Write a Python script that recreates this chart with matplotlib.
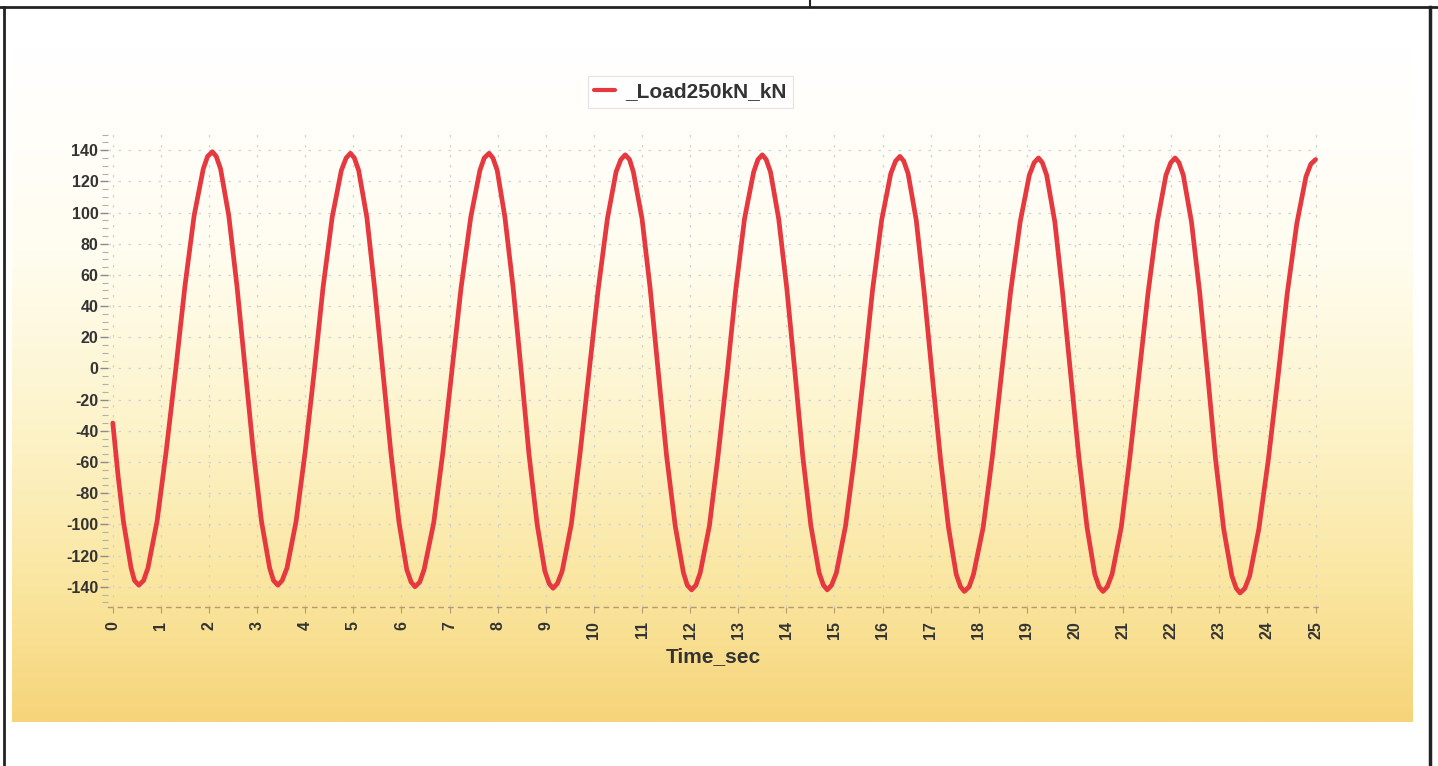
import numpy as np
import matplotlib
matplotlib.use('Agg')
import matplotlib.pyplot as plt
from matplotlib.lines import Line2D
from matplotlib.colors import LinearSegmentedColormap
from matplotlib.ticker import MultipleLocator

plt.rcParams['font.family'] = ['Liberation Sans', 'DejaVu Sans']
plt.rcParams['axes.unicode_minus'] = False

# valores (segundos, kN), un semiciclo por renglon
time_sec = [
    0.00, 0.11, 0.22, 0.38, 0.45, 0.54,
    0.64, 0.73, 0.92, 1.11, 1.31, 1.50, 1.69, 1.88, 1.97, 2.07,
    2.15, 2.24, 2.41, 2.58, 2.75, 2.92, 3.09, 3.26, 3.34, 3.43,
    3.52, 3.62, 3.81, 4.00, 4.19, 4.37, 4.56, 4.75, 4.85, 4.94,
    5.02, 5.11, 5.28, 5.44, 5.61, 5.78, 5.95, 6.11, 6.20, 6.28,
    6.38, 6.47, 6.67, 6.86, 7.05, 7.24, 7.44, 7.63, 7.72, 7.82,
    7.90, 7.99, 8.15, 8.32, 8.49, 8.65, 8.82, 8.98, 9.07, 9.15,
    9.24, 9.34, 9.53, 9.71, 9.90, 10.09, 10.28, 10.46, 10.56, 10.65,
    10.74, 10.82, 11.00, 11.17, 11.34, 11.51, 11.69, 11.86, 11.94, 12.03,
    12.12, 12.21, 12.40, 12.58, 12.77, 12.95, 13.13, 13.32, 13.41, 13.50,
    13.58, 13.67, 13.84, 14.01, 14.18, 14.34, 14.51, 14.68, 14.77, 14.85,
    14.94, 15.04, 15.23, 15.42, 15.61, 15.79, 15.98, 16.17, 16.27, 16.36,
    16.44, 16.53, 16.70, 16.86, 17.03, 17.20, 17.37, 17.53, 17.62, 17.70,
    17.80, 17.89, 18.09, 18.28, 18.47, 18.66, 18.86, 19.05, 19.15, 19.24,
    19.32, 19.41, 19.58, 19.74, 19.91, 20.08, 20.25, 20.41, 20.50, 20.58,
    20.67, 20.77, 20.96, 21.14, 21.33, 21.52, 21.71, 21.89, 21.99, 22.08,
    22.16, 22.25, 22.42, 22.59, 22.76, 22.92, 23.09, 23.26, 23.35, 23.43,
    23.53, 23.63, 23.82, 24.02, 24.22, 24.41, 24.61, 24.80, 24.90, 25.00,
]
load_kn = [
    -35, -69, -98, -128, -136, -139,
    -136, -128, -98, -53, 0, 53, 98, 128, 136, 139,
    136, 128, 98, 53, 0, -53, -98, -128, -136, -139,
    -136, -128, -98, -53, -1, 52, 97, 127, 135, 138,
    135, 127, 97, 52, -1, -54, -99, -129, -137, -140,
    -137, -129, -99, -54, -1, 52, 97, 127, 135, 138,
    135, 127, 97, 52, -2, -55, -100, -130, -138, -141,
    -138, -130, -100, -55, -2, 51, 96, 126, 134, 137,
    134, 126, 96, 51, -3, -56, -101, -131, -139, -142,
    -139, -131, -101, -56, -3, 51, 96, 126, 134, 137,
    134, 126, 96, 51, -3, -56, -101, -131, -139, -142,
    -139, -131, -101, -56, -3, 50, 95, 125, 133, 136,
    133, 125, 95, 50, -4, -57, -102, -132, -140, -143,
    -140, -132, -102, -57, -4, 49, 94, 124, 132, 135,
    132, 124, 94, 49, -4, -57, -102, -132, -140, -143,
    -140, -132, -102, -57, -4, 49, 94, 124, 132, 135,
    132, 124, 94, 49, -5, -58, -103, -133, -141, -144,
    -141, -133, -103, -58, -5, 48, 93, 123, 131, 134,
]
serie = '_Load250kN_kN'
x_ticks = list(range(0, 26))
y_ticks = list(range(-140, 141, 20))

W, H = 1438, 766
fig = plt.figure(figsize=(W/100, H/100), dpi=100)
fig.patch.set_facecolor('white')

# fondo degradado del panel
bg = fig.add_axes([12/W, 1-722/H, (1413-12)/W, (722-48)/H], zorder=0)
cmap = LinearSegmentedColormap.from_list('fondo', [
    (0.0, '#ffffff'), (0.3, '#fffdf0'), (0.55, '#fdf4cc'),
    (0.8, '#fae6a0'), (1.0, '#f6d47a')])
bg.imshow(np.linspace(0, 1, 256).reshape(-1, 1), aspect='auto', cmap=cmap,
          extent=[0, 1, 0, 1], origin='upper')
bg.axis('off')

ax = fig.add_axes([108/W, 1-607/H, (1318-108)/W, (607-133)/H], zorder=1)
ax.patch.set_alpha(0)

ax.plot(time_sec, load_kn, color='#e5393f', lw=3.4, solid_joinstyle='round',
        solid_capstyle='round', label='serie')

ax.set_xlim(-0.1, 25.05)
ax.set_ylim(-153, 151)
ax.set_xticks(x_ticks)
ax.set_yticks(y_ticks)
ax.yaxis.set_minor_locator(MultipleLocator(5))
ax.set_xticklabels([str(v) for v in x_ticks], rotation=90)
ax.grid(True, which='major', color='#d2d2d2', ls=(0, (2, 6)), lw=0.9)

for s in ['top', 'right', 'left']:
    ax.spines[s].set_visible(False)
ax.spines['bottom'].set_linestyle((0, (3, 4)))
ax.spines['bottom'].set_color('#b49a70')
ax.spines['bottom'].set_linewidth(1.0)

ax.tick_params(axis='y', which='major', length=6, width=1, color='#8a8a8a',
               labelsize=11.5, labelcolor='#333333', pad=1)
ax.tick_params(axis='y', which='minor', length=4, width=0.8, color='#b0b0b0')
ax.tick_params(axis='x', which='major', length=4, width=0.8, color='#b49a70',
               labelsize=11.5, labelcolor='#333333', pad=6)
for t in ax.get_xticklabels() + ax.get_yticklabels():
    t.set_fontweight('bold')

ax.set_xlabel('Time_sec', fontsize=15, fontweight='bold', color='#333333',
              labelpad=6)

leg = ax.legend(loc='center', bbox_to_anchor=(0.48, 0.88),
                bbox_transform=fig.transFigure, frameon=True, fancybox=False,
                handlelength=1.0, handletextpad=0.5, borderpad=0.3,
                prop={'size': 15, 'weight': 'bold'})
leg.get_texts()[0].set_text(serie)
leg.get_texts()[0].set_color('#333333')
leg.get_lines()[0].set_linewidth(3)
leg.get_frame().set_edgecolor('#dddddd')
leg.get_frame().set_linewidth(0.8)

# bordes de la hoja escaneada
borde = dict(color='#222222', transform=fig.transFigure)
fig.add_artist(Line2D([0, 1], [1-7/H, 1-7/H], lw=2, **borde))
fig.add_artist(Line2D([4/W, 4/W], [0, 1-7/H], lw=2, **borde))
fig.add_artist(Line2D([1430/W, 1430/W], [0, 1-7/H], lw=2.5, **borde))
fig.add_artist(Line2D([810/W, 810/W], [1-7/H, 1], lw=1.5, **borde))

fig.savefig('out.png', dpi=100)
